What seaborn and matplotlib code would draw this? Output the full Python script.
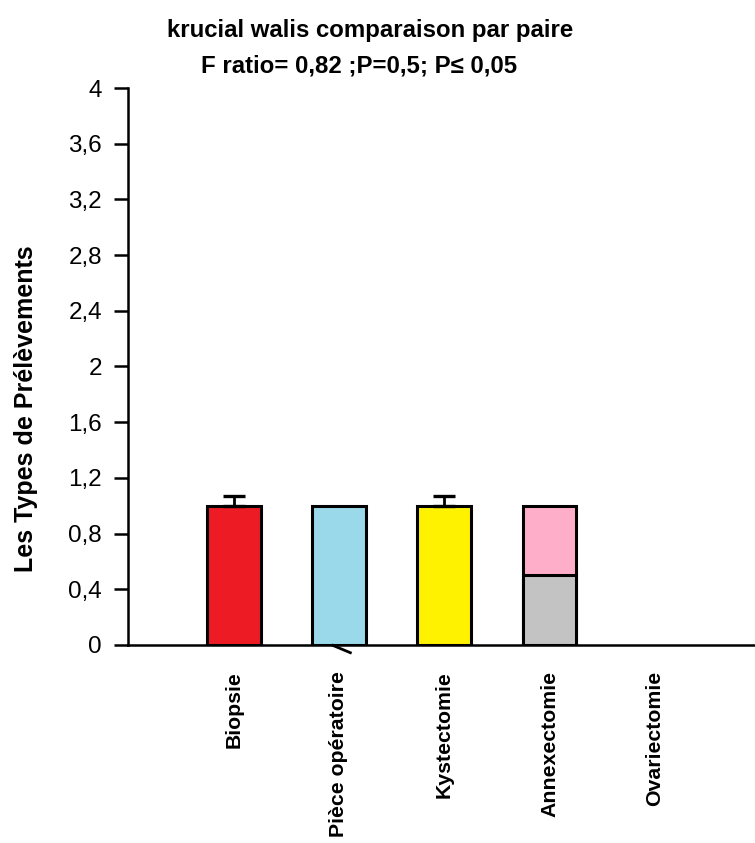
import matplotlib
matplotlib.use("Agg")
import matplotlib.pyplot as plt
import seaborn as sns
import numpy as np
import pandas as pd

# Sample types and their mean values
categories = ["Biopsie", "Pièce opératoire", "Kystectomie", "Annexectomie", "Ovariectomie"]
totals = [1.0, 1.0, 1.0, 1.0, 0.0]
upper_err = [0.07, 0.0, 0.07, 0.0, 0.0]
# lower segment of the stacked Annexectomie bar
lower_part = [0.0, 0.0, 0.0, 0.5, 0.0]

bar_colors = ["#ED1C24", "#99D9EA", "#FFF200", "#FFAEC9", "#FFFFFF"]
lower_color = "#C3C3C3"

y_ticks = [0, 0.4, 0.8, 1.2, 1.6, 2, 2.4, 2.8, 3.2, 3.6, 4]
y_tick_labels = ["0", "0,4", "0,8", "1,2", "1,6", "2", "2,4", "2,8", "3,2", "3,6", "4"]

sns.set_theme(style="white")
plt.rcParams["font.family"] = ["Liberation Sans", "DejaVu Sans"]
plt.rcParams["text.color"] = "black"
plt.rcParams["axes.labelcolor"] = "black"
plt.rcParams["xtick.color"] = "black"
plt.rcParams["ytick.color"] = "black"

df = pd.DataFrame({"type": categories, "total": totals, "lower": lower_part})

fig = plt.figure(figsize=(7.55, 8.43), dpi=100)
ax = fig.add_axes([0.170, 0.235, 0.830, 0.6605])

sns.barplot(data=df, x="type", y="total", hue="type", order=categories,
            palette=bar_colors, legend=False, width=0.51,
            edgecolor="black", linewidth=2.2, saturation=1, ax=ax)
sns.barplot(data=df, x="type", y="lower", order=categories,
            color=lower_color, width=0.51,
            edgecolor="black", linewidth=2.2, saturation=1, ax=ax)

# empty bars get no outline
for patch in ax.patches:
    if patch.get_height() == 0:
        patch.set_linewidth(0)

# one-sided (upward) error bars
pos = np.arange(len(categories))
err = np.array(upper_err)
mask = err > 0
ax.errorbar(pos[mask], np.array(totals)[mask],
            yerr=[np.zeros(mask.sum()), err[mask]],
            fmt="none", ecolor="black", elinewidth=2, capsize=8, capthick=2.4,
            zorder=1)

# small stroke under the second bar
ax.plot([1 - 0.07, 1 + 0.12], [0.0, -0.06], color="black", lw=2,
        clip_on=False, solid_capstyle="butt")

ax.set_xlim(-1.0, 4.95)
ax.set_ylim(0, 4)
ax.set_yticks(y_ticks)
ax.set_yticklabels(y_tick_labels, fontsize=17.5)
ax.set_xticks(pos)
ax.set_xticklabels(categories, rotation=90, fontsize=15.3, fontweight="bold")
ax.tick_params(axis="y", direction="out", length=10, width=1.8,
               left=True, pad=9)
ax.tick_params(axis="x", length=0, pad=19)

for side in ["top", "right"]:
    ax.spines[side].set_visible(False)
for side in ["left", "bottom"]:
    ax.spines[side].set_color("black")
    ax.spines[side].set_linewidth(1.8)

ax.set_xlabel("")
ax.set_ylabel("Les Types de Prélèvements", fontsize=18, fontweight="bold")
ax.yaxis.set_label_coords(-0.1435, 0.424)

fig.text(0.490, 1 - 37 / 843, "krucial walis comparaison par paire", ha="center",
         va="baseline", fontsize=17.3, fontweight="bold")
fig.text(0.476, 1 - 73 / 843, "F ratio= 0,82 ;P=0,5; P\u2264 0,05", ha="center",
         va="baseline", fontsize=17.3, fontweight="bold")

fig.savefig("out.png", dpi=100)
